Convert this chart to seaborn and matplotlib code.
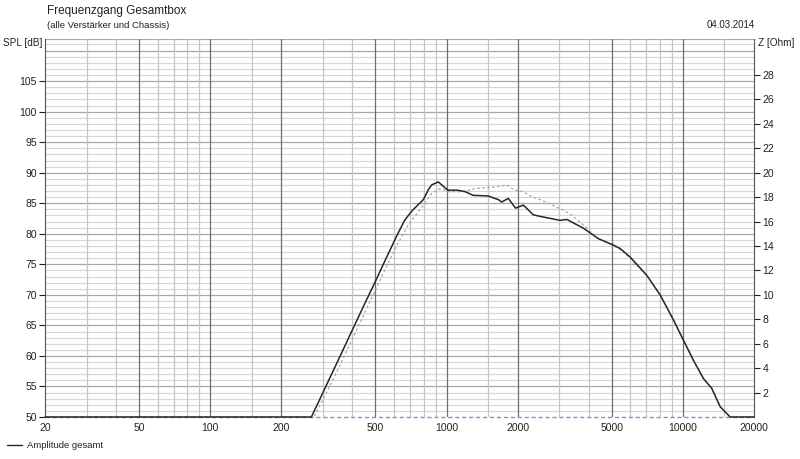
import numpy as np
import pandas as pd
import matplotlib
matplotlib.use("Agg")
import matplotlib.pyplot as plt
import seaborn as sns

# Amplitude gesamt (solid curve)
freq_total = [20, 100, 200, 268, 300, 350, 400, 450, 500, 560, 620, 667, 720,
              760, 798, 840, 865, 923, 1012, 1110, 1199, 1296, 1497, 1657, 1713,
              1825, 1960, 2113, 2330, 2529, 3023, 3231, 3800, 4392, 5082, 5425,
              5981, 7036, 8011, 9124, 10049, 11081, 12218, 13250, 14373, 15850,
              20000]
spl_total = [50, 50, 50, 50, 54.0, 59.5, 64.3, 68.5, 72.2, 76.3, 79.9, 82.3, 83.9,
             84.8, 85.6, 87.3, 88.0, 88.5, 87.15, 87.15, 86.9, 86.3, 86.2, 85.6,
             85.2, 85.8, 84.2, 84.7, 83.1, 82.8, 82.2, 82.35, 80.9, 79.2, 78.15,
             77.6, 76.2, 73.2, 70.0, 65.9, 62.6, 59.3, 56.3, 54.7, 51.7, 50, 50]

# second (dotted grey) curve
freq_ref = [20, 100, 200, 275, 330, 400, 450, 500, 560, 620, 690, 785, 865, 939,
            1030, 1176, 1320, 1630, 1797, 1927, 2113, 2295, 2529, 2917, 3321,
            3800, 4392, 5082, 5425, 5981, 7036, 8011, 9124, 10049, 11081, 12218,
            13250, 14373, 15850, 20000]
spl_ref = [50, 50, 50, 50, 56.0, 62.8, 67.0, 70.8, 74.8, 78.3, 81.5, 84.3, 86.6,
           87.4, 86.9, 86.9, 87.4, 87.7, 88.0, 87.2, 86.9, 86.05, 85.5, 84.4, 83.3,
           81.4, 79.2, 78.1, 77.4, 76.0, 73.2, 70.0, 65.9, 62.6, 59.3, 56.3,
           54.7, 51.7, 50, 50]

# impedance curve (flat at zero on the right axis)
freq_imp = [20, 20000]
z_imp = [0, 0]

x_ticks = [20, 50, 100, 200, 500, 1000, 2000, 5000, 10000, 20000]
x_minor = [30, 40, 60, 70, 80, 90, 150, 300, 400, 600, 700, 800, 900, 1500,
           3000, 4000, 6000, 7000, 8000, 9000, 15000]
spl_ticks = list(range(50, 110, 5))
z_ticks = list(range(2, 30, 2))

sns.set_style("white")
plt.rcParams['font.family'] = ['Liberation Sans', 'DejaVu Sans']

fig = plt.figure(figsize=(8, 4.59), dpi=100)
ax = fig.add_axes([45 / 800, 42 / 459, 709 / 800, 378 / 459])

y_top = 111.9
ax.set_xscale('log')
ax.set_xlim(20, 20000)
ax.set_ylim(50, y_top)

ax2 = ax.twinx()
ax2.set_ylim(0, (y_top - 50) / 2)

# grid (on the back axes so the impedance line sits above it)
for y in np.arange(51, 112, 1):
    if y % 5:
        ax2.axhline((y - 50) / 2, color='#d6d6d6', lw=0.8, zorder=0)
for y in spl_ticks[1:] + [110, y_top]:
    ax2.axhline((y - 50) / 2, color='#a8a8a8', lw=0.9, zorder=0)
for x in x_minor:
    ax2.axvline(x, color='#c4c4c4', lw=0.9, zorder=0)
for x in x_ticks[1:-1]:
    ax2.axvline(x, color='#6e6e6e', lw=0.9, zorder=0)

df_imp = pd.DataFrame({'f': freq_imp, 'z': z_imp})
df_ref = pd.DataFrame({'f': freq_ref, 'spl': spl_ref})
df_tot = pd.DataFrame({'f': freq_total, 'spl': spl_total})

sns.lineplot(data=df_imp, x='f', y='z', ax=ax2, color='#8a8ad6', lw=1.0,
             linestyle=(0, (3, 2)), clip_on=False, zorder=2)
sns.lineplot(data=df_ref, x='f', y='spl', ax=ax, color='#a4a4a4', lw=0.9,
             linestyle=(0, (2, 2)), zorder=3)
sns.lineplot(data=df_tot, x='f', y='spl', ax=ax, color='#262626', lw=1.1,
             zorder=4, clip_on=False)
ax.set_zorder(ax2.get_zorder() + 1)
ax.patch.set_visible(False)
ax2.patch.set_visible(False)

ax.set_xticks(x_ticks)
ax.set_xticklabels([str(v) for v in x_ticks])
ax.xaxis.set_minor_locator(matplotlib.ticker.NullLocator())
ax.set_yticks(spl_ticks)
ax.set_yticklabels([str(v) for v in spl_ticks])
ax2.set_yticks(z_ticks)
ax2.set_yticklabels([str(v) for v in z_ticks])

ax.tick_params(axis='x', length=0, pad=4, labelsize=7.5, colors='#222222')
ax.tick_params(axis='y', length=4, width=0.8, pad=2, labelsize=7.5,
               colors='#222222', direction='out')
ax2.tick_params(axis='y', length=4, width=0.8, pad=2, labelsize=7.5,
                colors='#222222', direction='out')
ax.set_xlabel('')
ax.set_ylabel('')
ax2.set_ylabel('')

for a in (ax, ax2):
    for s in ('top', 'right', 'left', 'bottom'):
        a.spines[s].set_visible(False)
ax.spines['left'].set_visible(True)
ax.spines['left'].set_color('#555555')
ax.spines['left'].set_linewidth(0.8)
ax2.spines['right'].set_visible(True)
ax2.spines['right'].set_color('#555555')
ax2.spines['right'].set_linewidth(0.8)

fig.text(47 / 800, 1 - 11 / 459, 'Frequenzgang Gesamtbox', fontsize=8.5,
         va='center', ha='left', color='#222222')
fig.text(47 / 800, 1 - 25 / 459, '(alle Verstärker und Chassis)', fontsize=6.8,
         va='center', ha='left', color='#222222')
fig.text(755 / 800, 1 - 25 / 459, '04.03.2014', fontsize=7, va='center',
         ha='right', color='#222222')
fig.text(42 / 800, 1 - 43 / 459, 'SPL [dB]', fontsize=7.2, va='center',
         ha='right', color='#222222')
fig.text(758 / 800, 1 - 43 / 459, 'Z [Ohm]', fontsize=7.2, va='center',
         ha='left', color='#222222')

fig.lines.append(plt.Line2D([7 / 800, 22 / 800], [1 - 445 / 459, 1 - 445 / 459],
                            color='#262626', lw=1.0, transform=fig.transFigure))
fig.text(27 / 800, 1 - 445 / 459, 'Amplitude gesamt', fontsize=6.8,
         va='center', ha='left', color='#222222')

fig.savefig('out.png', dpi=100, facecolor='white')
